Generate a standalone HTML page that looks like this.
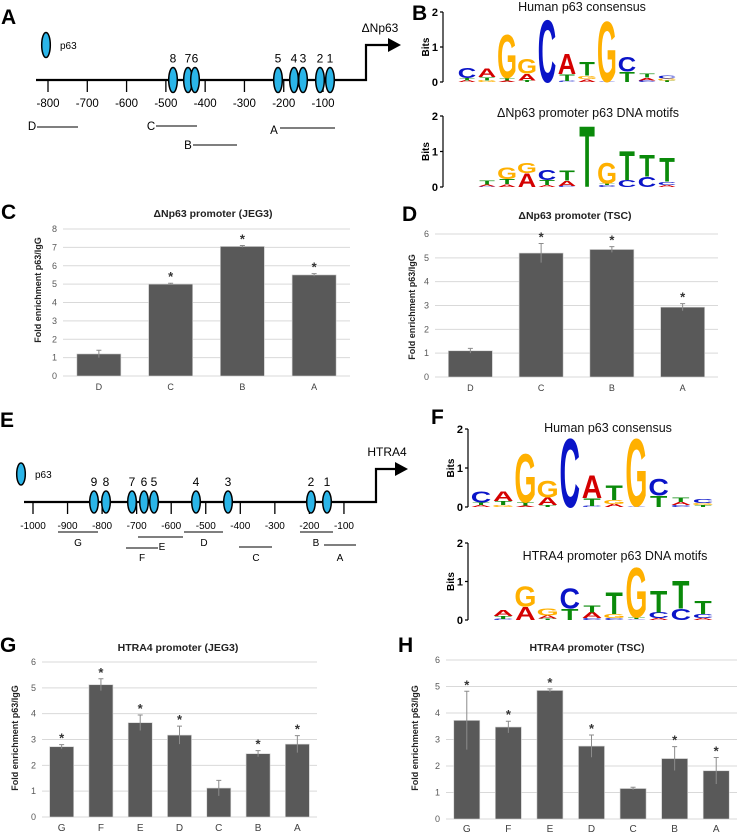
<!DOCTYPE html>
<html><head><meta charset="utf-8"><style>
html,body{margin:0;padding:0;background:#fff;}
svg{display:block;font-family:"Liberation Sans",sans-serif;}
</style></head><body>
<svg id="fig" width="737" height="835" viewBox="0 0 737 835" xmlns="http://www.w3.org/2000/svg">
<g id="panelA"></g>
<g id="panelE"></g>
<g id="logos"></g>
<g id="charts"></g>
<g id="letters" font-weight="bold" font-size="21" fill="#000">
<text x="1" y="24">A</text>
<text x="412" y="20">B</text>
<text x="1" y="219">C</text>
<text x="402" y="221">D</text>
<text x="0" y="427">E</text>
<text x="431" y="424">F</text>
<text x="0" y="652">G</text>
<text x="398" y="652">H</text>
</g>
</svg>
<script>
const NS="http://www.w3.org/2000/svg";
function mk(tag,attrs,parent,txt){const e=document.createElementNS(NS,tag);for(const k in attrs)e.setAttribute(k,attrs[k]);if(txt!==undefined)e.textContent=txt;parent.appendChild(e);return e;}

// ---------- Bar chart data ----------
const catsC=["D","C","B","A"];
const valsC=[1.2,5.0,7.05,5.5];
const errC=[0.2,0.05,0.05,0.07];
const ticksC=[0,1,2,3,4,5,6,7,8];
const catsD=["D","C","B","A"];
const valsD=[1.1,5.2,5.35,2.93];
const errD=[0.1,0.4,0.12,0.15];
const ticksD=[0,1,2,3,4,5,6];
const catsG=["G","F","E","D","C","B","A"];
const valsG=[2.72,5.12,3.65,3.17,1.12,2.45,2.82];
const errG=[0.08,0.23,0.3,0.35,0.3,0.12,0.33];
const starsG=[1,1,1,1,0,1,1];
const ticksG=[0,1,2,3,4,5,6];
const catsH=["G","F","E","D","C","B","A"];
const valsH=[3.72,3.47,4.85,2.75,1.15,2.28,1.82];
const errH=[1.1,0.22,0.06,0.42,0.05,0.45,0.5];
const starsH=[1,1,1,1,0,1,1];
const ticksH=[0,1,2,3,4,5,6];
const starsC=[0,1,1,1];
const starsD=[0,1,1,1];

function barChart(o){
  const g=mk("g",{},document.getElementById("charts"));
  
  
  const yMax=o.ticks[o.ticks.length-1];
  const y=v=>o.y0-(v/yMax)*(o.y0-o.yTop);
  const n=o.cats.length;
  const step=(o.x1-o.x0)/n;
  const x=i=>o.x0+step*(i+0.5);
  o.ticks.forEach(t=>{
    const l=mk("line",{x1:o.x0,x2:o.x1,y1:y(t),y2:y(t),stroke:"#d9d9d9","stroke-width":1},g);
    
    
    const tx=mk("text",{x:o.x0-6,y:y(t)+3,"font-size":9,fill:"#595959","text-anchor":"end"},g,String(t));
    
    
  });
  o.cats.forEach((c,i)=>{
    const v=o.vals[i],e=o.errs[i];
    const r=mk("rect",{x:x(i)-o.bw/2,y:y(v),width:o.bw,height:o.y0-y(v),fill:"#595959",stroke:"#d0d0d0","stroke-width":0.6},g);
    
    
    const eb=mk("path",{d:`M${x(i)} ${y(v-e)}V${y(v+e)}M${x(i)-2.5} ${y(v+e)}H${x(i)+2.5}`,stroke:"#8c8c8c","stroke-width":1,fill:"none"},g);
    
    
    if(o.stars[i]){
      const s=mk("text",{x:x(i),y:y(v+e)-2,"font-size":13,"font-weight":"bold","text-anchor":"middle",fill:"#333"},g,"*");
      
      
    }
    const lb=mk("text",{x:x(i),y:o.y0+o.labOff,"font-size":o.labSize,fill:"#404040","text-anchor":"middle"},g,c);
    
    
  });
  const t=mk("text",{x:o.tx,y:o.ty,"font-size":10.5,"font-weight":"bold","text-anchor":"middle",fill:"#222"},g,o.title);
  
  
  const yl=mk("text",{x:0,y:0,"font-size":9,"font-weight":"bold","text-anchor":"middle",fill:"#222",transform:`translate(${o.ylx},${o.yly}) rotate(-90)`},g,"Fold enrichment p63/IgG");
  
  
}
barChart({name:"chart-c-dnp63-jeg3",cats:catsC,vals:valsC,errs:errC,stars:starsC,ticks:ticksC,x0:63,x1:350,y0:376,yTop:229,bw:44,title:"ΔNp63 promoter (JEG3)",tx:213,ty:217,ylx:41,yly:290,labOff:14,labSize:9});
barChart({name:"chart-d-dnp63-tsc",cats:catsD,vals:valsD,errs:errD,stars:starsD,ticks:ticksD,x0:435,x1:718,y0:377,yTop:234,bw:44,title:"ΔNp63 promoter (TSC)",tx:575,ty:219,ylx:415,yly:307,labOff:14,labSize:9});
barChart({name:"chart-g-htra4-jeg3",cats:catsG,vals:valsG,errs:errG,stars:starsG,ticks:ticksG,x0:42,x1:317,y0:817,yTop:662,bw:24,title:"HTRA4 promoter (JEG3)",tx:178,ty:651,ylx:18,yly:738,labOff:14,labSize:10});
barChart({name:"chart-h-htra4-tsc",cats:catsH,vals:valsH,errs:errH,stars:starsH,ticks:ticksH,x0:446,x1:737,y0:819,yTop:660,bw:26,title:"HTRA4 promoter (TSC)",tx:587,ty:651,ylx:418,yly:738,labOff:13,labSize:10});

// ---------- Sequence logos ----------
const logoConsensus=[[["A",.05],["T",.07],["C",.3]],[["G",.05],["T",.1],["A",.25]],[["A",.04],["T",.08],["G",1.3]],[["T",.05],["A",.2],["G",.45]],[["C",1.85]],[["C",.03],["T",.2],["A",.6]],[["A",.08],["G",.1],["T",.4]],[["C",.02],["G",1.8]],[["T",.3],["C",.45]],[["C",.05],["A",.08],["T",.12]],[["T",.05],["G",.05],["C",.1]]];
const logoDNp63=[[["C",.02],["A",.05],["T",.12]],[["A",.08],["T",.15],["G",.35]],[["A",.4],["G",.3]],[["A",.05],["T",.15],["C",.3]],[["C",.03],["A",.15],["T",.3]],[["T",1.8]],[["C",.05],["T",.05],["G",.6]],[["C",.2],["T",.85]],[["C",.3],["T",.65]],[["A",.05],["C",.1],["T",.7]]];
const logoHTRA4=[[["C",.03],["T",.08],["A",.15]],[["A",.35],["G",.55]],[["T",.04],["A",.08],["G",.2]],[["T",.3],["C",.55]],[["C",.05],["A",.15],["T",.2]],[["C",.05],["G",.1],["T",.6]],[["C",.02],["T",.05],["G",1.35]],[["A",.05],["C",.15],["T",.6]],[["C",.3],["T",.75]],[["A",.05],["C",.1],["T",.35]]];
const COL={A:"#d40000",C:"#0a14c8",G:"#ffb000",T:"#0a8a0a"};
function logo(o){
  const g=mk("g",{},document.getElementById("logos"));
  
  
  const ppb=(o.y0-o.y2)/2;
  const ax=mk("path",{d:`M${o.ax} ${o.y2}V${o.y0}M${o.ax-3} ${o.y2}H${o.ax}M${o.ax-3} ${(o.y0+o.y2)/2}H${o.ax}M${o.ax-3} ${o.y0}H${o.ax}`,stroke:"#000","stroke-width":1.2,fill:"none"},g);
  
  
  [0,1,2].forEach(b=>{
    const t=mk("text",{x:o.ax-5,y:o.y0-b*ppb+4,"font-size":11,"font-weight":"bold","text-anchor":"end"},g,String(b));
    
    
  });
  const bl=mk("text",{x:0,y:0,"font-size":10,"font-weight":"bold","text-anchor":"middle",transform:`translate(${o.ax-14},${(o.y0+o.y2)/2}) rotate(-90)`},g,"Bits");
  
  
  const tt=mk("text",{x:o.tx,y:o.ty,"font-size":12.5,"text-anchor":"middle",fill:"#111"},g,o.title);
  
  
  o.data.forEach((col,i)=>{
    const cx=o.c0+(i+o.off)*o.dx;
    let cum=0;
    col.forEach(([L,h])=>{
      const hp=h*ppb;
      const yb=o.y0-cum*ppb;
      const t=mk("text",{x:0,y:0,"font-size":10,"font-weight":"bold","text-anchor":"middle",fill:COL[L],transform:`translate(${cx},${yb}) scale(${(o.dx*0.92)/7.2},${hp/7.3})`},g,L);
      
      
      cum+=h;
    });
  });
}
logo({name:"logo-b-consensus",data:logoConsensus,ax:443,y0:82,y2:12,c0:467,dx:20,off:0,title:"Human p63 consensus",tx:582,ty:11});
logo({name:"logo-b-dnp63",data:logoDNp63,ax:443,y0:187,y2:116,c0:467,dx:20,off:1,title:"ΔNp63 promoter p63 DNA motifs",tx:588,ty:117});
logo({name:"logo-f-consensus",data:logoConsensus,ax:468,y0:507,y2:429,c0:481,dx:22.2,off:0,title:"Human p63 consensus",tx:608,ty:432});
logo({name:"logo-f-htra4",data:logoHTRA4,ax:468,y0:620,y2:543,c0:481,dx:22.2,off:1,title:"HTRA4 promoter p63 DNA motifs",tx:615,ty:560});

// ---------- Promoter diagrams ----------
const ticksA=[-800,-700,-600,-500,-400,-300,-200,-100];
const sitesA=[["8",173],["7",188],["6",195],["5",278],["4",294],["3",303],["2",320],["1",330]];
const fragsA=[["D",32,130,37,78,127],["C",151,130,156,197,126],["B",188,149,193,237,145],["A",274,134,280,335,128]];
const ticksE=[-1000,-900,-800,-700,-600,-500,-400,-300,-200,-100];
const sitesE=[["9",94],["8",106],["7",132],["6",144],["5",154],["4",196],["3",228],["2",311],["1",327]];
const fragsE=[["G",78,546,58,98,532],["E",162,550,138,183,537],["F",142,561,126,158,548],["D",204,546,184,223,532],["C",256,561,239,272,547],["B",316,546,300,333,532],["A",340,561,324,356,545]];
function diagram(o){
  const g=document.getElementById(o.gid);
  const ln=mk("path",{d:`M${o.xs} ${o.ly}H${o.bx}V${o.ay}H${o.tip-10}`,stroke:"#000","stroke-width":2.2,fill:"none"},g);
  
  
  const ar=mk("path",{d:`M${o.tip} ${o.ay}L${o.tip-13} ${o.ay-7}L${o.tip-13} ${o.ay+7}Z`,fill:"#000"},g);
  
  
  const gl=mk("text",{x:o.gx,y:o.ay-13,"font-size":12,"text-anchor":"middle"},g,o.gene);
  
  
  o.ticks.forEach(t=>{
    const tx=o.sx(t);
    const tk=mk("line",{x1:tx,x2:tx,y1:o.ly,y2:o.ly+12,stroke:"#000","stroke-width":1.3},g);
    
    
    const tl=mk("text",{x:tx,y:o.ly+27,"font-size":o.tfs,"text-anchor":"middle"},g,String(t));
    
    
  });
  o.sites.forEach(([n,x])=>{
    const e=mk("ellipse",{cx:x,cy:o.ly,rx:4.3,ry:o.ry,fill:"#2bb5e8",stroke:"#000","stroke-width":1.5},g);
    
    
    const t=mk("text",{x:x,y:o.ly-o.ry-5,"font-size":12,"text-anchor":"middle"},g,n);
    
    
  });
  const le=mk("ellipse",{cx:o.legx,cy:o.legy,rx:4.3,ry:o.ry,fill:"#2bb5e8",stroke:"#000","stroke-width":1.5},g);
  
  
  const lt=mk("text",{x:o.legx+14,y:o.legy+4,"font-size":10},g,"p63");
  
  
  o.frags.forEach(([n,lx,lyy,x1,x2,fy])=>{
    const l=mk("line",{x1:x1,x2:x2,y1:fy,y2:fy,stroke:"#333","stroke-width":1.2},g);
    
    
    const t=mk("text",{x:lx,y:lyy,"font-size":o.ffs,"text-anchor":"middle"},g,n);
    
    
  });
}
diagram({gid:"panelA",xs:36,ly:80,bx:366,ay:45,tip:401,gene:"ΔNp63",gx:380,ticks:ticksA,sx:v=>48+(v+800)*0.3929,sites:sitesA,ry:12.5,legx:46,legy:45,frags:fragsA,tfs:11.5,ffs:11.5});
diagram({gid:"panelE",xs:24,ly:502,bx:376,ay:469,tip:408,gene:"HTRA4",gx:387,ticks:ticksE,sx:v=>33+(v+1000)*0.3455,sites:sitesE,ry:11,legx:21,legy:474,frags:fragsE,tfs:10,ffs:10});
</script>
</body></html>
